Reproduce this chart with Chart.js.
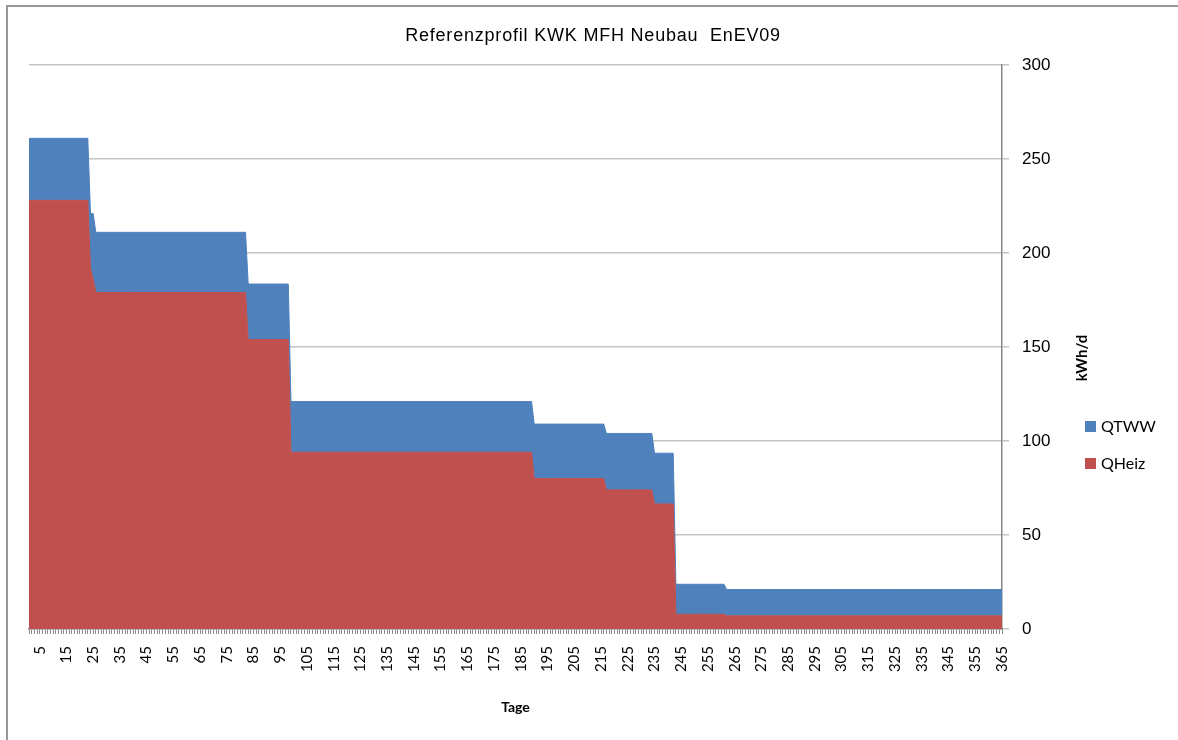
<!DOCTYPE html>
<html lang="de">
<head>
<meta charset="utf-8">
<title>Referenzprofil KWK MFH Neubau EnEV09</title>
<script src="https://cdn.jsdelivr.net/npm/chart.js@4.4.1/dist/chart.umd.min.js"></script>
<style>
  html, body { margin: 0; padding: 0; background: #fff; overflow: hidden; }
  canvas { display: block; }
</style>
</head>
<body>
<canvas id="profilChart" width="1178" height="740"></canvas>
<script>
// Tagesprofil als Stufen: letzter Tag jeder Stufe und Werte in kWh/d
const stepEndDay = [23, 24, 25, 82, 98, 189, 216, 234, 242, 261, 365];
const qHeizStep  = [228, 192, 186, 179, 154, 94, 80, 74, 66.5, 7.8, 7];
const qTwwStep   = [33, 29, 35, 32, 29.5, 27, 29, 30, 27, 16, 14];

const yTicks = [0, 50, 100, 150, 200, 250, 300];

const days = [];
for (let d = 1; d <= 365; d++) days.push(d);

function expandSteps(values) {
    const out = [];
    let day = 1;
    stepEndDay.forEach((end, i) => {
        for (; day <= end; day++) out.push(values[i]);
    });
    return out;
}

const colHeiz = '#C0504D';
const colTww = '#4F81BD';

Chart.defaults.font.family = 'Lato';
Chart.defaults.color = '#000';

// Rahmen, Titel, Achsentitel rechts (von unten nach oben) und Legende
const extras = {
    id: 'extras',
    afterDraw(chart) {
        const ctx = chart.ctx;
        ctx.save();
        ctx.strokeStyle = '#979797';
        ctx.lineWidth = 2;
        ctx.beginPath();
        ctx.moveTo(7, 740);
        ctx.lineTo(7, 6);
        ctx.lineTo(1178, 6);
        ctx.stroke();

        ctx.font = '18px "Liberation Sans"';
        ctx.letterSpacing = '0.8px';
        ctx.textAlign = 'center';
        ctx.textBaseline = 'middle';
        ctx.fillStyle = '#000';
        ctx.fillText('Referenzprofil KWK MFH Neubau  EnEV09', 593, 36);
        ctx.letterSpacing = '0px';

        ctx.translate(1082, 358);
        ctx.rotate(-Math.PI / 2);
        ctx.font = 'bold 15px Lato';
        ctx.fillText('kWh/d', 0, 0);
        ctx.restore();

        const items = [
            { text: 'QTWW', color: colTww, y: 426 },
            { text: 'QHeiz', color: colHeiz, y: 463 }
        ];
        ctx.save();
        ctx.font = '16px Lato';
        ctx.textBaseline = 'middle';
        items.forEach(it => {
            ctx.fillStyle = it.color;
            ctx.fillRect(1085, it.y - 5, 11, 11);
            ctx.fillStyle = '#000';
            ctx.fillText(it.text, 1101, it.y + 1);
        });
        ctx.restore();
    }
};

const canvas = document.getElementById('profilChart');
new Chart(canvas.getContext('2d'), {
    type: 'line',
    data: {
        labels: days,
        datasets: [
            {
                label: 'QHeiz',
                data: expandSteps(qHeizStep),
                backgroundColor: colHeiz,
                borderColor: colHeiz,
                fill: 'origin'
            },
            {
                label: 'QTWW',
                data: expandSteps(qTwwStep),
                backgroundColor: colTww,
                borderColor: colTww,
                fill: '-1'
            }
        ]
    },
    options: {
        responsive: false,
        animation: false,
        layout: { padding: { left: 29, right: 0, top: 65, bottom: 0 } },
        elements: {
            point: { radius: 0 },
            line: { borderWidth: 1, tension: 0 }
        },
        scales: {
            x: {
                offset: false,
                grid: { drawOnChartArea: false, drawTicks: true, tickLength: 5, color: '#8a8a8a' },
                border: { color: '#868686', width: 1.5 },
                ticks: {
                    autoSkip: false,
                    minRotation: 90,
                    maxRotation: 90,
                    padding: 12,
                    font: { size: 15 },
                    callback: function(value, index) {
                        const d = days[index];
                        return d % 10 === 5 ? String(d) : '';
                    }
                },
                title: {
                    display: true,
                    text: 'Tage',
                    font: { size: 14, weight: 'bold' },
                    padding: { top: 4, bottom: 24 }
                },
                afterFit: function(scale) { scale.height = 111; }
            },
            y: {
                position: 'right',
                stacked: true,
                min: 0,
                max: 300,
                afterBuildTicks: function(scale) {
                    scale.ticks = yTicks.map(v => ({ value: v }));
                },
                grid: { color: '#c4c4c4', lineWidth: 1.5, tickLength: 7 },
                border: { color: '#868686', width: 1.5 },
                ticks: {
                    padding: 13,
                    font: { family: 'Liberation Sans', size: 17 }
                },
                afterFit: function(scale) { scale.width = 176; }
            }
        },
        plugins: {
            title: { display: false },
            legend: { display: false },
            tooltip: { enabled: false }
        }
    },
    plugins: [extras]
});
</script>
</body>
</html>
